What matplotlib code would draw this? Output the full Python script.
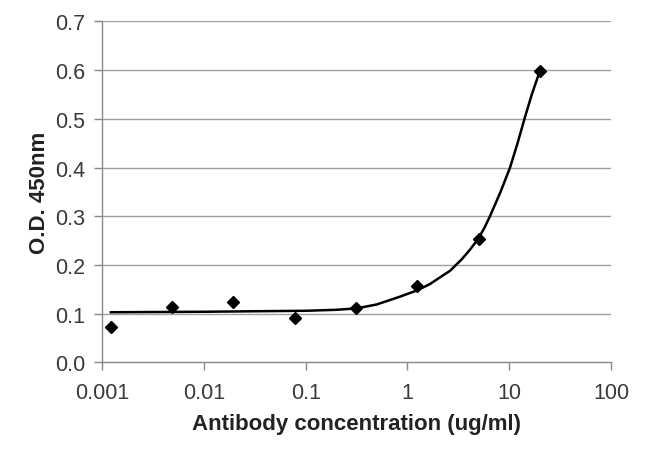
# ELISA titration curve: O.D. 450nm vs antibody concentration
from matplotlib import pyplot as plt

plt.rcParams['font.family'] = ['Liberation Sans', 'DejaVu Sans']

# measured points (4-fold dilution from 20 ug/ml)
conc = [0.00122, 0.00488, 0.0195, 0.078, 0.3125, 1.25, 5, 20]
od = [0.073, 0.113, 0.124, 0.091, 0.111, 0.157, 0.254, 0.598]

# fitted curve
fit_x = [0.00122, 0.01, 0.03, 0.1, 0.2, 0.318, 0.5, 0.845, 1.25, 1.67, 2.0, 2.62,
         3.43, 4.1, 4.94, 5.7, 6.47, 8.22, 10.19, 12.08, 14.13, 16.67, 20.0]
fit_y = [0.103, 0.104, 0.105, 0.106, 0.108, 0.111, 0.119, 0.135, 0.148, 0.161, 0.172, 0.188,
         0.212, 0.231, 0.253, 0.276, 0.300, 0.350, 0.400, 0.450, 0.500, 0.550, 0.598]

yticks = [0.0, 0.1, 0.2, 0.3, 0.4, 0.5, 0.6, 0.7]
xticks = [0.001, 0.01, 0.1, 1, 10, 100]
xlabels = ['0.001', '0.01', '0.1', '1', '10', '100']

fig = plt.figure(figsize=(6.5, 4.56), dpi=100)
ax = fig.add_axes([0.157, 0.203, 0.783, 0.748])

ax.plot(fit_x, fit_y, '-', color='black', linewidth=1.8, zorder=3,
        solid_joinstyle='round')
ax.plot(conc, od, 'D', color='black', markersize=6.5, zorder=4)

ax.set_xscale('log')
ax.set_xlim(0.001, 100)
ax.set_ylim(0, 0.7)
ax.set_xticks(xticks)
ax.set_xticklabels(xlabels)
ax.minorticks_off()
ax.set_yticks(yticks)
ax.set_yticklabels(['%.1f' % v for v in yticks])

# horizontal grid
for v in yticks[1:]:
    ax.axhline(v, color='#a0a0a0', linewidth=1.0, zorder=1)

for s in ['top', 'right']:
    ax.spines[s].set_visible(False)
for s in ['left', 'bottom']:
    ax.spines[s].set_color('#888888')
    ax.spines[s].set_linewidth(1.0)

ax.tick_params(axis='both', colors='#888888', labelcolor='#3a3a3a',
               labelsize=15.5, length=6, width=1.0, direction='out')
ax.tick_params(axis='x', pad=8)
ax.tick_params(axis='y', pad=6)

ax.set_xlabel('Antibody concentration (ug/ml)', fontsize=16, fontweight='bold',
              color='#222222', labelpad=7)
ax.set_ylabel('O.D. 450nm', fontsize=16, fontweight='bold', color='#222222',
              labelpad=4)

plt.savefig('out.png', dpi=100)
